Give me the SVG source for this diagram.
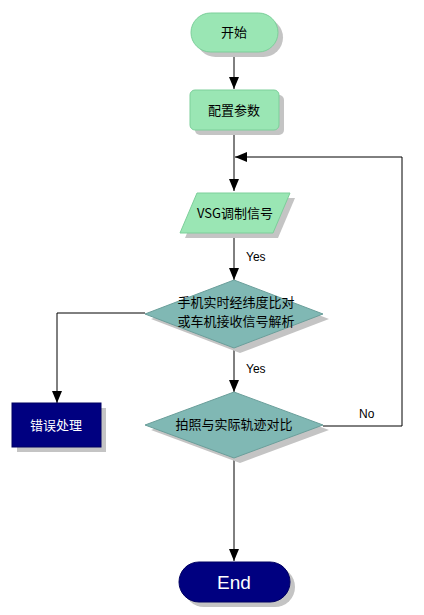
<svg xmlns="http://www.w3.org/2000/svg" width="424" height="615" viewBox="0 0 424 615">
<defs>
<marker id="ah" viewBox="0 0 12 10" refX="12" refY="5" markerWidth="12" markerHeight="10" markerUnits="userSpaceOnUse" orient="auto">
<path d="M0,0 L12,5 L0,10 Z" fill="#000"/>
</marker>
</defs>
<style>
.sh{fill:#c4c4c4}
.g{fill:#9ae6b4;stroke:#7ccf9a;stroke-width:1}
.d{fill:#80b8b4;stroke:#6a9e9a;stroke-width:1}
.n{fill:#000080;stroke:#000060;stroke-width:1}
.t{font-family:"Noto Sans CJK SC","Liberation Sans",sans-serif;font-size:13px;fill:#000;text-anchor:middle}
.w{fill:#fff}
.l{font-family:"Liberation Sans",Arial,sans-serif;font-size:12px;fill:#000}
.c{fill:none;stroke:#000;stroke-width:1}
</style>
<rect width="424" height="615" fill="#fff"/>
<g id="connectors">
<path class="c" d="M234,52 V89" marker-end="url(#ah)"/>
<path class="c" d="M234,130 V191" marker-end="url(#ah)"/>
<path class="c" d="M234,233 V280" marker-end="url(#ah)"/>
<path class="c" d="M145,313 H57 V403" marker-end="url(#ah)"/>
<path class="c" d="M234,348 V392" marker-end="url(#ah)"/>
<path class="c" d="M323,426 H402 V157 H235" marker-end="url(#ah)"/>
<path class="c" d="M234,458 V561" marker-end="url(#ah)"/>
<text class="l" x="246" y="261">Yes</text>
<text class="l" x="246" y="373">Yes</text>
<text class="l" x="359" y="418">No</text>
</g>
<g id="start">
<rect class="sh" x="196" y="18" width="87" height="39" rx="19.5"/>
<rect class="g" x="191" y="13" width="87" height="39" rx="19.5"/>
<text class="t" x="234" y="37">开始</text>
</g>
<g id="config">
<rect class="sh" x="195" y="95" width="89" height="40" rx="5"/>
<rect class="g" x="190" y="90" width="89" height="40" rx="5"/>
<text class="t" x="234" y="115">配置参数</text>
</g>
<g id="vsg">
<polygon class="sh" points="202,198 295,198 278,238 185,238"/>
<polygon class="g" points="197,193 290,193 273,233 180,233"/>
<text class="t" x="235" y="218">VSG调制信号</text>
</g>
<g id="decision1">
<polygon class="sh" points="240,285 329,319 240,353 151,319"/>
<polygon class="d" points="234,280 323,314 234,348 145,314"/>
<text class="t" x="236" y="307">手机实时经纬度比对</text>
<text class="t" x="236" y="326">或车机接收信号解析</text>
</g>
<g id="error">
<rect class="sh" x="17" y="408" width="89" height="44"/>
<rect class="n" x="12" y="403" width="89" height="44"/>
<text class="t w" x="56" y="430">错误处理</text>
</g>
<g id="decision2">
<polygon class="sh" points="240,397 329,430 240,463 151,430"/>
<polygon class="d" points="234,392 323,425 234,458 145,425"/>
<text class="t" x="234" y="429">拍照与实际轨迹对比</text>
</g>
<g id="end">
<rect class="sh" x="184" y="567" width="111" height="40" rx="20"/>
<rect class="n" x="179" y="562" width="111" height="40" rx="20"/>
<text x="234" y="589" style="font-family:'Liberation Sans',Arial,sans-serif;font-size:19px;fill:#fff;text-anchor:middle">End</text>
</g>
</svg>
